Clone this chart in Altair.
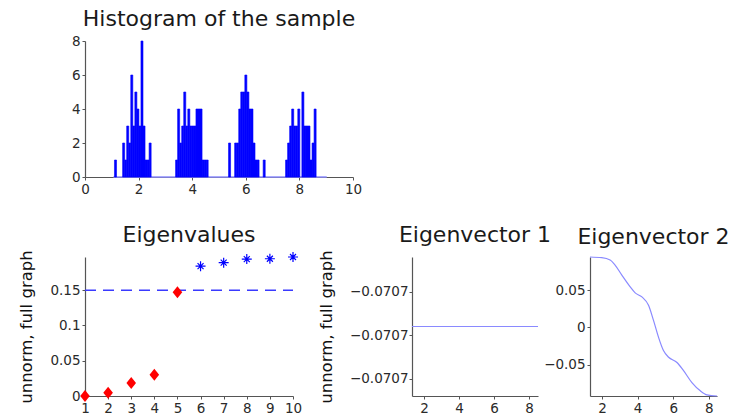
import altair as alt
import pandas as pd

FONT = "DejaVu Sans"

# ---------------- Histogram of the sample ----------------
hist_start = 1.10
hist_bin_width = 0.076
hist_counts = [
    1, 0, 0, 0, 2, 1, 3, 2, 6, 3, 5, 4, 3, 8, 3, 1, 1, 2, 0,
    0, 0, 0, 0, 0, 0, 0, 0, 0, 0, 0,
    1, 4, 2, 3, 5, 3, 4, 3, 3, 3, 4, 4, 4, 1, 1, 1,
    0, 0, 0, 0, 0, 0, 0, 0, 0, 0,
    2, 0, 0,
    2, 2, 4, 5, 5, 6, 5, 4, 4, 2, 1, 1, 0,
    0, 1,
    0, 0, 0, 0, 0, 0, 0, 0, 0, 0,
    1, 2, 3, 4, 3, 3, 4, 0, 5, 3, 3, 3, 1, 2, 4,
    0,
]
hist_baseline = [1.06, 9.02]
hist_xticks = [0, 2, 4, 6, 8, 10]
hist_yticks = [0, 2, 4, 6, 8]

# ---------------- Eigenvalues ----------------
eig_index = [1, 2, 3, 4, 5, 6, 7, 8, 9, 10]
eig_values = [0.0, 0.0047, 0.0186, 0.030, 0.147, 0.184, 0.189, 0.194, 0.1945, 0.197]
eig_group = ["small", "small", "small", "small", "small",
             "large", "large", "large", "large", "large"]
eig_threshold = 0.15
eig_yticks = [0, 0.05, 0.1, 0.15]

# ---------------- Eigenvector 1 ----------------
ev1_x = [1.31, 8.51]
ev1_y = [-0.07071068, -0.07071068]
ev1_domain = [-0.07071076, -0.0707106]
ev1_yticks = [-0.07071074, -0.07071069, -0.07071064]

# ---------------- Eigenvector 2 ----------------
ev2_x = [1.32, 1.98, 2.45, 2.73, 3.11, 3.58, 3.86, 4.24, 4.61, 4.89,
         5.17, 5.45, 5.74, 6.21, 6.58, 7.05, 7.52, 7.90, 8.46]
ev2_y = [0.0946, 0.0937, 0.0905, 0.0838, 0.0703, 0.0545, 0.0464, 0.041, 0.0297, 0.0095,
         -0.013, -0.031, -0.040, -0.047, -0.058, -0.074, -0.085, -0.0905, -0.0920]
ev_xticks = [2, 4, 6, 8]
ev2_yticks = [-0.05, 0, 0.05]

YLABEL = "unnorm, full graph"

# ---------- histogram panel ----------
hist_df = pd.DataFrame({
    "x0": [hist_start + i * hist_bin_width for i in range(len(hist_counts))],
    "x1": [hist_start + (i + 1) * hist_bin_width for i in range(len(hist_counts))],
    "count": hist_counts,
})
hist_df = hist_df[hist_df["count"] > 0]

hx = alt.Scale(domain=[0, 10], nice=False, zero=False)
hy = alt.Scale(domain=[0, 8], nice=False)

base_df = pd.DataFrame({"a": [hist_baseline[0]], "b": [hist_baseline[1]], "y": [0]})
hist_base = alt.Chart(base_df).mark_rule(color="#8c8cff", strokeWidth=1.6).encode(
    x=alt.X("a:Q", scale=hx, axis=alt.Axis(values=hist_xticks, title=None)),
    x2="b:Q",
    y=alt.Y("y:Q", scale=hy, axis=alt.Axis(values=hist_yticks, title=None)),
)
hist_bars = alt.Chart(hist_df).mark_bar(color="#0000ff", stroke="#0000ff", strokeWidth=0.6).encode(
    x=alt.X("x0:Q", scale=hx, axis=alt.Axis(values=hist_xticks, title=None)),
    x2="x1:Q",
    y=alt.Y("count:Q", scale=hy, axis=alt.Axis(values=hist_yticks, title=None)),
    y2=alt.datum(0),
)
hist = alt.layer(hist_base, hist_bars).properties(
    width=268, height=136,
    title=alt.TitleParams("Histogram of the sample", offset=3),
)

# ---------- eigenvalues panel ----------
eig_df = pd.DataFrame({"k": eig_index, "v": eig_values, "group": eig_group})
ex = alt.Scale(domain=[eig_index[0], eig_index[-1]], nice=False, zero=False)
ey = alt.Scale(domain=[0, 0.197], nice=False)
x_eig = alt.X("k:Q", scale=ex, axis=alt.Axis(values=eig_index, title=None))
y_eig = alt.Y("v:Q", scale=ey, axis=alt.Axis(values=eig_yticks, format="~g", title=YLABEL))

thr_df = pd.DataFrame({"k": [eig_index[0]], "k2": [eig_index[-1]], "v": [eig_threshold]})
thr = alt.Chart(thr_df).mark_rule(color="#3a3aff", strokeWidth=1.5, strokeDash=[11, 7]).encode(
    x=x_eig, x2="k2:Q", y=y_eig
)
diamond = "M-0.8,0L0,-1L0.8,0L0,1Z"
asterisk = "M-1,0L1,0M0,-1L0,1M-0.6,-0.6L0.6,0.6M-0.6,0.6L0.6,-0.6"
small_pts = alt.Chart(eig_df).transform_filter(alt.datum.group == "small").mark_point(
    shape=diamond, filled=True, color="#ff0000", size=144, opacity=1
).encode(x=x_eig, y=y_eig)
large_pts = alt.Chart(eig_df).transform_filter(alt.datum.group == "large").mark_point(
    shape=asterisk, filled=False, color="#0000ff", size=100, strokeWidth=1.2, opacity=1
).encode(x=x_eig, y=y_eig)
eig = alt.layer(thr, small_pts, large_pts).properties(
    width=208, height=139, title=alt.TitleParams("Eigenvalues", offset=3)
)

# ---------- eigenvector 1 ----------
ev1_df = pd.DataFrame({"x": ev1_x, "y": ev1_y})
ev1 = alt.Chart(ev1_df).mark_line(color="#8a8aff", strokeWidth=1.2).encode(
    x=alt.X("x:Q", scale=alt.Scale(domain=[ev1_x[0], ev1_x[-1]], nice=False, zero=False),
            axis=alt.Axis(values=ev_xticks, title=None)),
    y=alt.Y("y:Q", scale=alt.Scale(domain=ev1_domain, nice=False, zero=False),
            axis=alt.Axis(values=ev1_yticks, format=".4f", title=YLABEL, labelPadding=1)),
).properties(width=126, height=139, title=alt.TitleParams("Eigenvector 1", offset=3))

# ---------- eigenvector 2 ----------
ev2_df = pd.DataFrame({"x": ev2_x, "y": ev2_y})
ev2 = alt.Chart(ev2_df).mark_line(color="#8a8aff", strokeWidth=1.2, interpolate="monotone").encode(
    x=alt.X("x:Q", scale=alt.Scale(domain=[ev2_x[0], ev2_x[-1]], nice=False, zero=False),
            axis=alt.Axis(values=ev_xticks, title=None)),
    y=alt.Y("y:Q", scale=alt.Scale(domain=[-0.092, 0.0946], nice=False, zero=False),
            axis=alt.Axis(values=ev2_yticks, format="~g", title=None)),
).properties(width=127, height=139, title=alt.TitleParams("Eigenvector 2", offset=6))

right = alt.hconcat(ev1, ev2, spacing=52, bounds="flush")
bottom = alt.hconcat(eig, right, spacing=119, bounds="flush")

chart = alt.vconcat(hist, bottom, spacing=80, bounds="flush").properties(
    padding={"left": 10, "top": 0, "right": 0, "bottom": -2}
).configure_axis(
    labelFont=FONT, labelFontSize=13.5, labelColor="#2a2a2a", labelPadding=2,
    tickSize=3, tickColor="#555555", domainColor="#555555", domainWidth=1.2,
    grid=False, labelFlush=False, labelOverlap=False,
    titleFont=FONT, titleFontSize=16.5, titleFontWeight="normal", titleColor="#111111",
    titlePadding=15,
).configure_title(
    font=FONT, fontSize=22, fontWeight="normal", color="#1a1a1a",
    anchor="middle", frame="group", baseline="alphabetic",
).configure_view(stroke=None)

chart.save("out.html", embed_options={"renderer": "svg", "actions": False})
